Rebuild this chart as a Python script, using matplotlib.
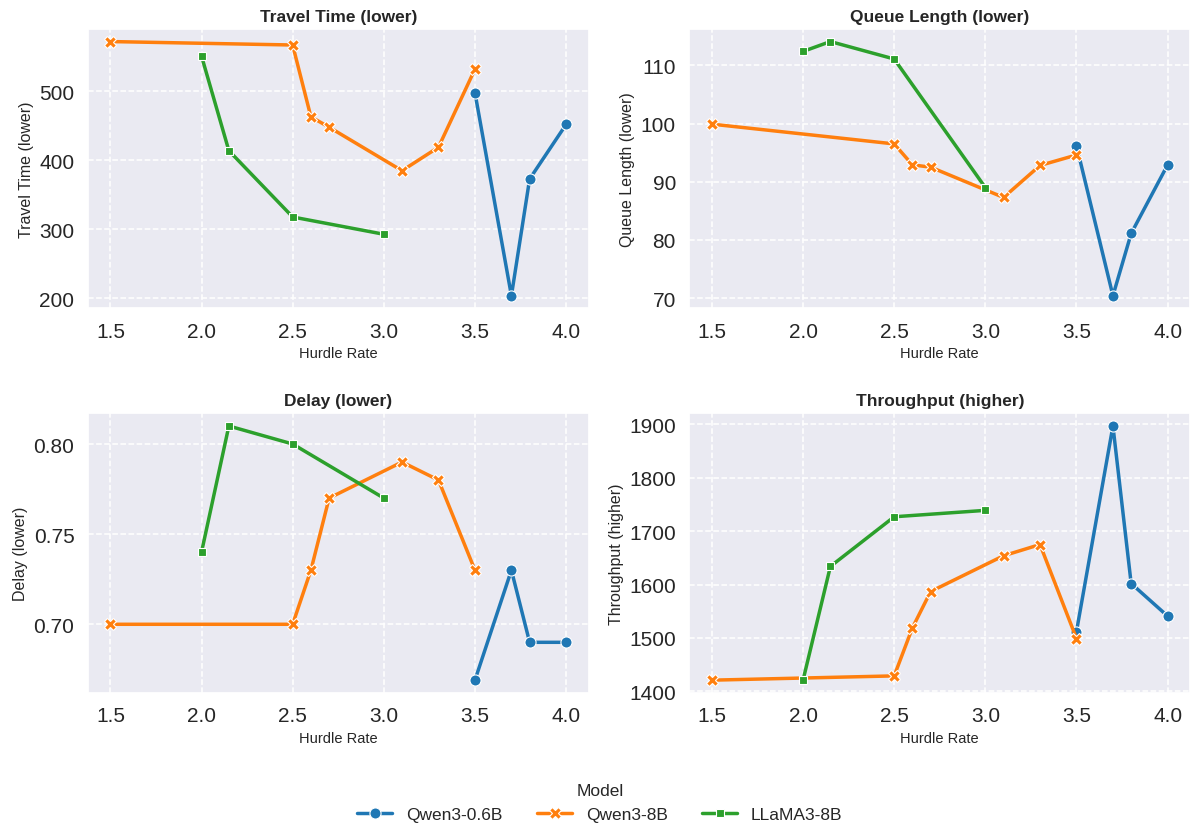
import matplotlib

matplotlib.use("Agg")
import matplotlib.pyplot as plt
import seaborn as sns

# x positions (hurdle rate) per model
models = ["Qwen3-0.6B", "Qwen3-8B", "LLaMA3-8B"]
hurdle_qwen06 = [3.5, 3.7, 3.8, 4.0]
hurdle_qwen8 = [1.5, 2.5, 2.6, 2.7, 3.1, 3.3, 3.5]
hurdle_llama = [2.0, 2.15, 2.5, 3.0]

# metric values per model
travel_qwen06 = [498, 204, 373, 452]
travel_qwen8 = [572, 567, 463, 448, 385, 419, 532]
travel_llama = [551, 414, 318, 293]

queue_qwen06 = [96.2, 70.4, 81.1, 92.9]
queue_qwen8 = [99.9, 96.5, 92.9, 92.5, 87.3, 92.8, 94.6]
queue_llama = [112.4, 114.1, 111.1, 89.0]

delay_qwen06 = [0.669, 0.73, 0.69, 0.69]
delay_qwen8 = [0.70, 0.70, 0.73, 0.77, 0.79, 0.78, 0.73]
delay_llama = [0.74, 0.81, 0.80, 0.77]

thru_qwen06 = [1512, 1897, 1602, 1541]
thru_qwen8 = [1421, 1429, 1519, 1587, 1654, 1675, 1499]
thru_llama = [1421, 1634, 1727, 1739]

panels = [
    ("Travel Time (lower)", travel_qwen06, travel_qwen8, travel_llama),
    ("Queue Length (lower)", queue_qwen06, queue_qwen8, queue_llama),
    ("Delay (lower)", delay_qwen06, delay_qwen8, delay_llama),
    ("Throughput (higher)", thru_qwen06, thru_qwen8, thru_llama),
]

sns.set_theme(style="darkgrid")
plt.rcParams["font.family"] = ["Liberation Sans", "DejaVu Sans"]

colors = ["#1f77b4", "#ff7f0e", "#2ca02c"]
markers = ["o", "X", "s"]
msizes = [8, 8.5, 5.5]
xs = [hurdle_qwen06, hurdle_qwen8, hurdle_llama]

fig, axes = plt.subplots(2, 2, figsize=(12, 8.29), dpi=100)
fig.subplots_adjust(left=0.073, right=0.992, top=0.964, bottom=0.163, wspace=0.2, hspace=0.375)

handles = []
for ax, (title, *series) in zip(axes.flat, panels):
    for i, ys in enumerate(series):
        (ln,) = ax.plot(
            xs[i], ys, color=colors[i], marker=markers[i], lw=2.5,
            markersize=msizes[i], markeredgecolor="white", markeredgewidth=0.8,
            label=models[i],
        )
        if len(handles) < 3:
            handles.append(ln)
    ax.set_title(title, fontsize=12.5, fontweight="bold")
    ax.set_xlabel("Hurdle Rate", fontsize=10.5)
    ax.set_ylabel(title, fontsize=11.5)
    ax.tick_params(labelsize=15)
    ax.set_xticks([1.5, 2.0, 2.5, 3.0, 3.5, 4.0])
    ax.grid(True, linestyle="--", color="white", linewidth=1.1)

fig.legend(
    handles, models, title="Model", loc="lower center", bbox_to_anchor=(0.5, -0.012),
    ncol=3, frameon=False, fontsize=12.5, title_fontsize=12.5, columnspacing=2.0,
)

fig.savefig("out.png", dpi=100)
